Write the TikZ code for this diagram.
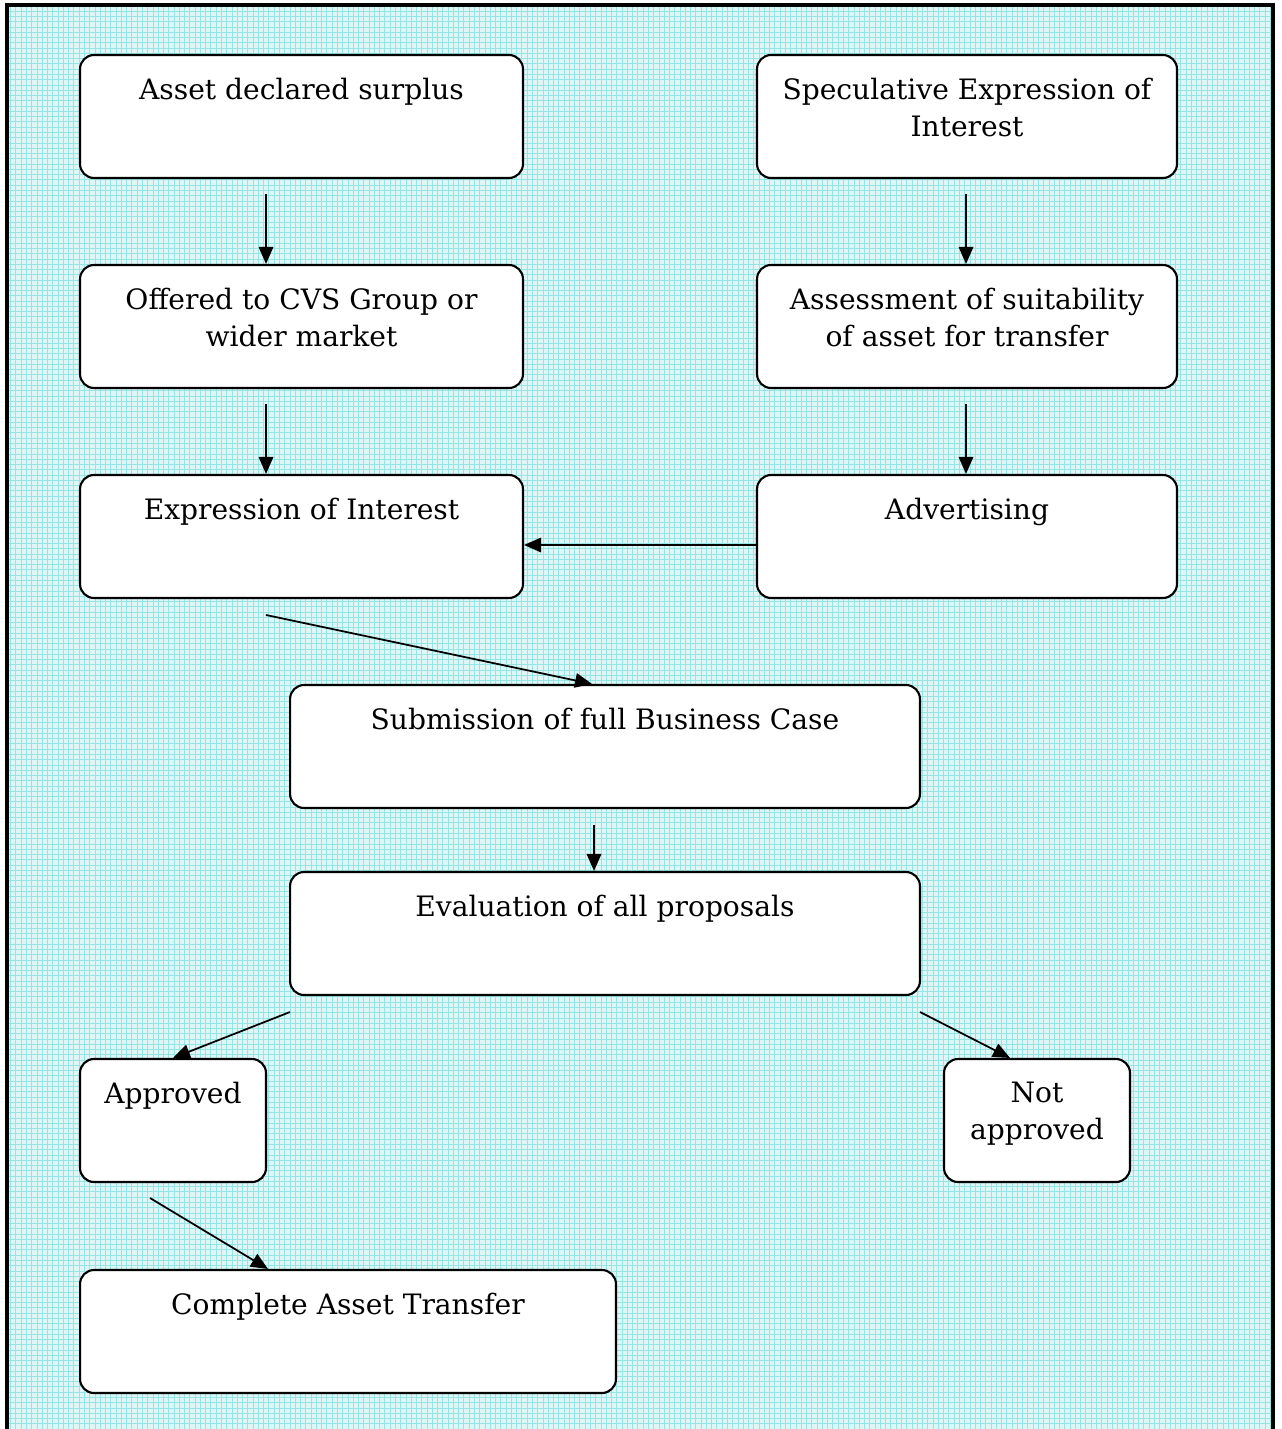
\documentclass[tikz,border=0pt]{standalone}
\usepackage{fontspec}
\setmainfont{DejaVu Serif}
\usepackage{tikz}
\usetikzlibrary{arrows.meta,patterns}
\definecolor{sheet}{RGB}{222,246,246}
\definecolor{gridcyan}{RGB}{150,228,228}
\tikzset{
box/.style={draw, rounded corners=0.28cm, fill=white, line width=1.2pt,
    minimum height=2.46cm, inner sep=0pt},
txt/.style={anchor=north, align=center, inner sep=0pt, yshift=-0.48cm,
    font=\fontsize{16}{21}\selectfont},
arr/.style={-{Triangle[length=0.34cm,width=0.29cm]}, line width=1pt}
}

\begin{document}
\begin{tikzpicture}[x=0.02cm,y=-0.02cm]
		\useasboundingbox (0,0) rectangle (1281,1429);
		% the sheet
		\fill[sheet] (7,5) rectangle (1273,1429);
		\fill[pattern=grid, pattern color=gridcyan] (7,5) rectangle (1273,1429);
		\draw[line width=1.9pt] (7,1429) -- (7,5) -- (1273,5) -- (1273,1429);

		\node[box, minimum width=8.86cm, label={[txt]north:Asset declared surplus}] (asset) at (301.5,116.5) {};
		\node[box, minimum width=8.4cm, label={[txt]north:Speculative Expression of\\Interest}] (spec) at (967,116.5) {};
		\node[box, minimum width=8.86cm, label={[txt]north:Offered to CVS Group or\\wider market}] (offer) at (301.5,326.5) {};
		\node[box, minimum width=8.4cm, label={[txt]north:Assessment of suitability\\of asset for transfer}] (assess) at (967,326.5) {};
		\node[box, minimum width=8.86cm, label={[txt]north:Expression of Interest}] (eoi) at (301.5,536.5) {};
		\node[box, minimum width=8.4cm, label={[txt]north:Advertising}] (advert) at (967,536.5) {};
		\node[box, minimum width=12.6cm, label={[txt]north:Submission of full Business Case}] (submit) at (605,746.5) {};
		\node[box, minimum width=12.6cm, label={[txt]north:Evaluation of all proposals}] (eval) at (605,933.5) {};
		\node[box, minimum width=3.72cm, label={[txt]north:Approved}] (approved) at (173,1120.5) {};
		\node[box, minimum width=3.72cm, label={[txt]north:Not\\approved}] (notok) at (1037,1120.5) {};
		\node[box, minimum width=10.72cm, label={[txt]north:Complete Asset Transfer}] (complete) at (348,1331.5) {};

		\coordinate (d1) at (266,194);
		\coordinate (d2) at (966,194);
		\coordinate (d3) at (266,404);
		\coordinate (d4) at (966,404);
		\coordinate (d5) at (266,615);
		\coordinate (d6) at (594,825);
		\coordinate (d7) at (290,1012);
		\coordinate (d8) at (920,1012);
		\coordinate (d9) at (150,1198);

		\draw[arr] (d1) -- (d1 |- offer.north);
		\draw[arr] (d2) -- (d2 |- assess.north);
		\draw[arr] (d3) -- (d3 |- eoi.north);
		\draw[arr] (d4) -- (d4 |- advert.north);
		\draw[arr] ([yshift=-0.17cm]advert.west) -- ([yshift=-0.17cm]eoi.east);
		\draw[arr] (d5) -- ([xshift=-0.26cm]submit.north);
		\draw[arr] (d6) -- (d6 |- eval.north);
		\draw[arr] (d7) -- (approved.north);
		\draw[arr] (d8) -- ([xshift=-0.54cm]notok.north);
		\draw[arr] (d9) -- ([xshift=-1.6cm]complete.north);
\end{tikzpicture}
\end{document}
